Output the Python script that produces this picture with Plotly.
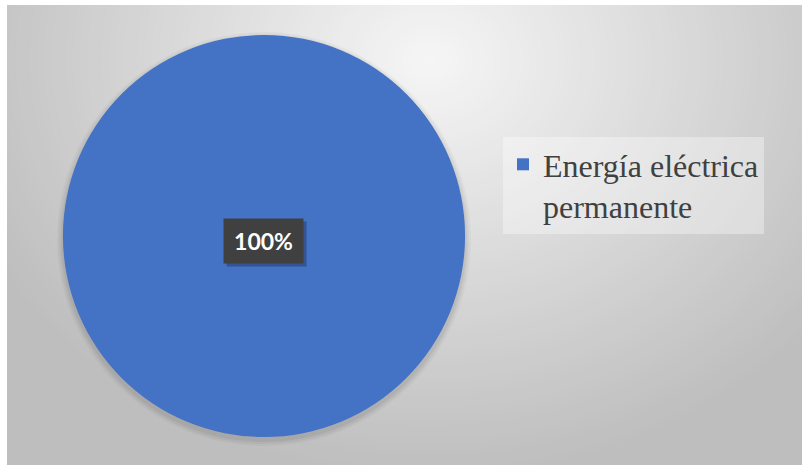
import plotly.graph_objects as go

# Data
categories = ["Energía eléctrica permanente"]
legend_labels = ["Energía eléctrica<br>permanente"]
values = [100]

W, H = 802, 465
# chart area (pixel units) inside the thin white border
X0, Y0 = 7, 5

fig = go.Figure()

# invisible trace that creates the pixel-unit cartesian layer for the background
fig.add_trace(go.Scatter(x=[], y=[], showlegend=False, hoverinfo="skip"))

fig.add_trace(go.Pie(
    labels=legend_labels,
    values=values,
    marker=dict(colors=["#4472C4"], line=dict(width=0)),
    textinfo="none",
    sort=False,
    direction="clockwise",
    domain=dict(x=[63 / W, 465 / W], y=[1 - 437 / H, 1 - 35 / H]),
    hovertemplate="%{label}: %{percent}<extra></extra>",
))

# radial grey gradient background
def grey(t):
    t = max(0.0, min(1.0, t))
    c0, c1 = 246, 190
    v = round(c0 + (c1 - c0) * t)
    return f"rgb({v},{v},{v})"

cx, cy, rx, ry = 430, 60, 500, 420
shapes = [dict(type="rect", xref="x", yref="y", x0=X0, x1=W, y0=Y0, y1=H,
               fillcolor=grey(1.0), line=dict(width=0), layer="below")]
steps = 70
for k in range(steps, 0, -1):
    t = k / steps
    shapes.append(dict(type="circle", xref="x", yref="y",
                       x0=cx - t * rx, x1=cx + t * rx, y0=cy - t * ry, y1=cy + t * ry,
                       fillcolor=grey(t), line=dict(width=0), layer="below"))

# soft shadow under the pie
pcx, pcy, pr = 264, 236, 201
for d, a in [(6, 0.03), (4, 0.04), (2, 0.05)]:
    shapes.append(dict(type="circle", xref="x", yref="y",
                       x0=pcx - pr - d, x1=pcx + pr + d, y0=pcy - pr - d + 3, y1=pcy + pr + d + 3,
                       fillcolor=f"rgba(0,0,0,{a})", line=dict(width=0), layer="below"))

total = sum(values)
pct_text = f"<b>{round(100 * values[0] / total)}%</b>"

annotations = [
    # drop shadow of the data label
    dict(x=266, y=244, xref="x", yref="y", text="", showarrow=False,
         width=77, height=42, bgcolor="rgba(0,0,0,0.25)"),
    dict(x=263, y=241, xref="x", yref="y", text=pct_text, showarrow=False,
         width=77, height=42, bgcolor="#404040",
         font=dict(family="Lato", size=23, color="white")),
]

fig.update_layout(
    width=W, height=H,
    margin=dict(l=0, r=0, t=0, b=0),
    paper_bgcolor="white",
    plot_bgcolor="rgba(0,0,0,0)",
    xaxis=dict(range=[X0, W], domain=[X0 / W, 1], visible=False, fixedrange=True),
    yaxis=dict(range=[H, Y0], domain=[0, 1 - Y0 / H], visible=False, fixedrange=True),
    shapes=shapes,
    annotations=annotations,
    showlegend=True,
    legend=dict(
        x=503 / W, xanchor="left", y=1 - 137 / H, yanchor="top",
        bgcolor="rgba(255,255,255,0.35)",
        font=dict(family="Liberation Serif", size=32, color="#404040"),
        valign="top",
        itemwidth=30,
    ),
)

fig.write_html("out.html")
